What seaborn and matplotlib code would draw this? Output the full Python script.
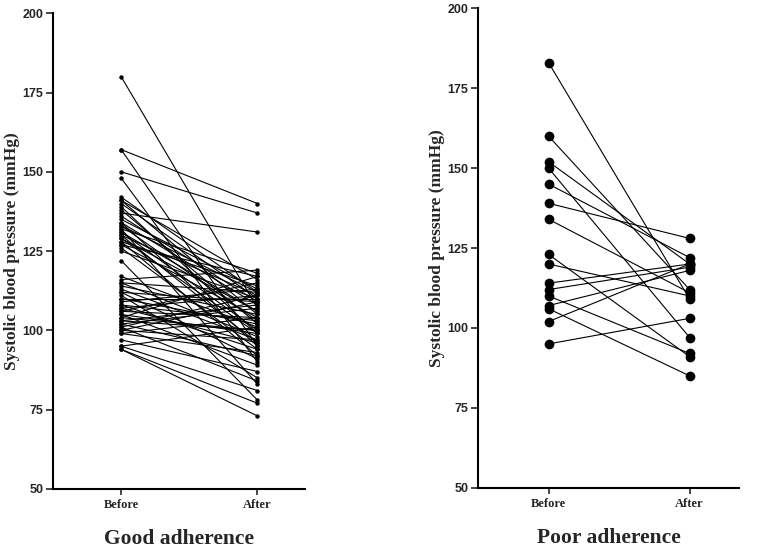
import numpy as np
import pandas as pd
import matplotlib
matplotlib.use("Agg")
import matplotlib.pyplot as plt
import seaborn as sns

# Good adherence: paired systolic BP (mmHg), before / after
good_before = [180, 157, 157, 150, 148, 142, 141, 140, 139, 137, 135, 134, 133, 132,
               131, 130, 130, 129, 128, 128, 127, 125, 122, 117, 116, 115, 113, 112,
               111, 110, 109, 108, 107, 106, 105, 104, 103, 102, 101, 100, 99, 97,
               95, 94, 94, 141, 138, 136, 134, 133, 131, 129, 127, 115, 114, 112,
               110, 108, 107, 106, 104, 103, 102, 101, 100, 99, 95, 132, 126, 105]
good_after = [107, 140, 95, 137, 90, 112, 105, 110, 99, 131, 113, 108, 103, 118,
              100, 111, 96, 106, 114, 92, 104, 110, 78, 101, 119, 112, 97, 109,
              85, 102, 113, 94, 111, 104, 89, 117, 100, 107, 84, 109, 93, 87,
              81, 77, 73, 116, 102, 109, 95, 112, 106, 99, 117, 98, 105, 91,
              110, 103, 96, 115, 100, 108, 92, 111, 97, 104, 101, 83, 94, 99]

# Poor adherence
poor_before = [183, 160, 152, 150, 145, 139, 134, 123, 120, 114, 112, 110, 107, 106, 102, 95]
poor_after = [109, 112, 120, 97, 122, 128, 111, 91, 110, 120, 119, 92, 118, 85, 120, 103]

times = ["Before", "After"]


def to_long(before, after):
    n = len(before)
    return pd.DataFrame({
        "id": list(range(n)) * 2,
        "time": [times[0]] * n + [times[1]] * n,
        "sbp": list(before) + list(after),
    })


df_good = to_long(good_before, good_after)
df_poor = to_long(poor_before, poor_after)

sns.set_style("ticks")
serif = "Liberation Serif"
sans = "Liberation Sans"

fig = plt.figure(figsize=(7.64, 5.53), dpi=100)
ax1 = fig.add_axes([0.0694, 0.116, 0.33, 0.860])
ax2 = fig.add_axes([0.6257, 0.118, 0.3416, 0.867])

panels = [(ax1, df_good, 3.2, "Good adherence"), (ax2, df_poor, 7, "Poor adherence")]
for ax, d, ms, title in panels:
    sns.lineplot(data=d, x="time", y="sbp", units="id", estimator=None,
                 color="black", lw=0.8, marker="o", markersize=ms,
                 markeredgewidth=0, ax=ax)
    ax.set_ylim(50, 200)
    ax.set_yticks([50, 75, 100, 125, 150, 175, 200])
    ax.set_xlim(-0.5, 1.35)
    ax.set_ylabel("Systolic blood pressure (mmHg)", fontfamily=serif,
                  fontweight="bold", fontsize=12.5, labelpad=2)
    ax.set_xlabel(title, fontfamily=serif, fontweight="bold", fontsize=15.5, labelpad=13)
    ax.tick_params(axis="y", length=5, width=1.2, labelsize=9, pad=2)
    ax.tick_params(axis="x", length=4, width=1.2, labelsize=9)
    for lab in ax.get_yticklabels():
        lab.set_fontfamily(sans)
        lab.set_fontweight("bold")
    for lab in ax.get_xticklabels():
        lab.set_fontfamily(serif)
        lab.set_fontweight("bold")
    for s in ["left", "bottom"]:
        ax.spines[s].set_linewidth(1.5)
        ax.spines[s].set_color("black")
    sns.despine(ax=ax)

fig.savefig("out.png", dpi=100)
